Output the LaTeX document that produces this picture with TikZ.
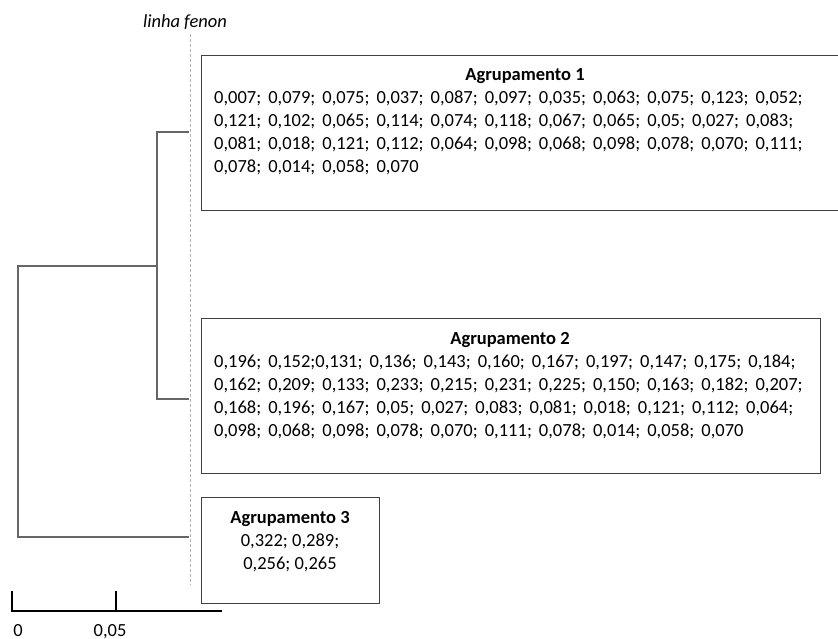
\documentclass[tikz,border=0pt]{standalone}
\usepackage{fontspec}
\setmainfont{Carlito}
\usetikzlibrary{positioning}

\newcommand\espaco{\spaceskip=.38em\relax}

\tikzset{
  caixa/.style={draw=black!75, line width=1.4pt, inner sep=0pt, anchor=north west},
  ramo/.style={draw=black!60, line width=1.8pt},
  fenon/.style={draw=black!30, line width=0.9pt, dash pattern=on 3pt off 2pt},
  escala/.style={draw=black, line width=2pt},
  valor/.style={font=\fontsize{18.5}{23}\selectfont, inner sep=0pt, anchor=base west},
  titulo/.style={font=\fontsize{18.5}{23}\selectfont\bfseries, inner sep=0pt, anchor=base},
  rotulo/.style={font=\fontsize{18.5}{23}\selectfont, inner sep=0pt, anchor=base},
}

\begin{document}
\begin{tikzpicture}[x=1pt,y=-1pt]
  \useasboundingbox (0,0) rectangle (838,639);
  \clip (0,0) rectangle (838,639);

  % caixas dos agrupamentos
  \node[caixa, minimum width=648pt, minimum height=155pt] (g1) at (201,55) {};
  \node[caixa, minimum width=619pt, minimum height=155pt] (g2) at (201,318) {};
  \node[caixa, minimum width=178pt, minimum height=106pt] (g3) at (201,497) {};

  \node[titulo] (t1) at (525,81) {Agrupamento 1};
  \foreach \linha [count=\i] in {{0,007; 0,079; 0,075; 0,037; 0,087; 0,097; 0,035; 0,063; 0,075; 0,123; 0,052;},
      {0,121; 0,102; 0,065; 0,114; 0,074; 0,118; 0,067; 0,065; 0,05; 0,027; 0,083;},
      {0,081; 0,018; 0,121; 0,112; 0,064; 0,098; 0,068; 0,098; 0,078; 0,070; 0,111;},
      {0,078; 0,014; 0,058; 0,070}}
    \node[valor] (g1v\i) at (214,81+23*\i) {\espaco\linha};

  \node[titulo] (t2) at (510,344) {Agrupamento 2};
  \foreach \linha [count=\i] in {{0,196; 0,152;0,131; 0,136; 0,143; 0,160; 0,167; 0,197; 0,147; 0,175; 0,184;},
      {0,162; 0,209; 0,133; 0,233; 0,215; 0,231; 0,225; 0,150; 0,163; 0,182; 0,207;},
      {0,168; 0,196; 0,167; 0,05; 0,027; 0,083; 0,081; 0,018; 0,121; 0,112; 0,064;},
      {0,098; 0,068; 0,098; 0,078; 0,070; 0,111; 0,078; 0,014; 0,058; 0,070}}
    \node[valor] (g2v\i) at (214,344+23*\i) {\espaco\linha};

  \node[titulo] (t3) at (290,523) {Agrupamento 3};
  \node[rotulo] (g3v1) at (290,546) {0,322; 0,289;};
  \node[rotulo] (g3v2) at (290,569) {0,256; 0,265};

  % linha fenon
  \coordinate (fn1) at (190.5,34);
  \coordinate (fn2) at (190.5,585);
  \draw[fenon] (fn1) -- (fn2);
  \node[rotulo, font=\fontsize{18.5}{23}\selectfont\itshape] (lf) at (185,28) {linha fenon};

  % dendrograma
  \coordinate (f1) at (189,132);
  \coordinate (f2) at (189,399);
  \coordinate (f3) at (189,537);
  \coordinate (n12) at (157,266);
  \coordinate (raiz) at (18,266);
  \draw[ramo] (f1) -| (n12) |- (f2);
  \draw[ramo] (n12) -- (raiz) |- (f3);

  % escala
  \coordinate (e0) at (12,611);
  \coordinate (e1) at (116,611);
  \coordinate (efim) at (222,611);
  \draw[escala] (e0) ++(0,-20) -- (e0) -- (efim);
  \draw[escala] (e1) -- ++(0,-20);
  \node[rotulo] (l0) at (18,636) {0};
  \node[rotulo] (l1) at (110,636) {0,05};
\end{tikzpicture}
\end{document}
